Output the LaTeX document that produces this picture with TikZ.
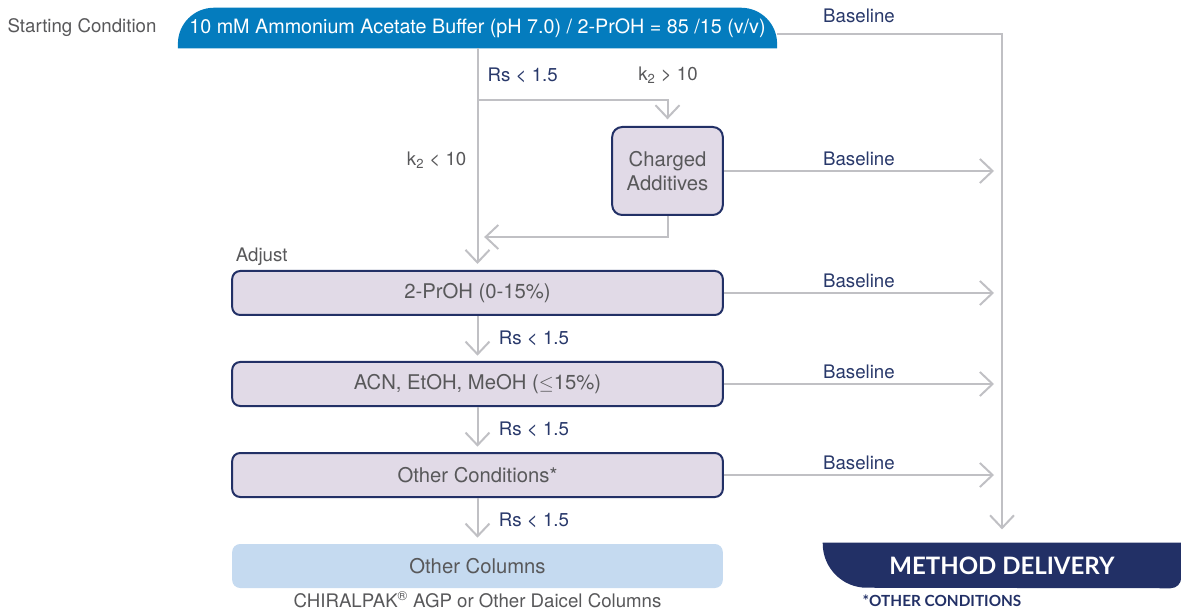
\documentclass[tikz,border=0pt]{standalone}
\usepackage{fontspec}
\setmainfont{TeX Gyre Heros}
\newfontfamily\headfont{Lato}
\usetikzlibrary{arrows.meta,positioning,backgrounds}
\definecolor{startblue}{RGB}{4,124,190}
\definecolor{boxnavy}{RGB}{34,48,102}
\definecolor{boxlilac}{RGB}{225,218,231}
\definecolor{colblue}{RGB}{197,218,240}
\definecolor{linegray}{RGB}{192,192,196}
\definecolor{textgray}{RGB}{88,88,90}
\definecolor{labnavy}{RGB}{40,56,106}

\begin{document}
\begin{tikzpicture}[x=0.75pt, y=-0.75pt, every node/.style={font=\fontsize{14}{16}\selectfont}]
    \tikzset{flow/.style = {draw=linegray, line width=1.5pt,
        -{Straight Barb[length=9.5pt,width=18pt]}},
      procbox/.style = {draw=boxnavy, line width=1.5pt, fill=boxlilac,
        rounded corners=6pt, text=textgray, font=\fontsize{15.2}{17}\selectfont,
        minimum width=368pt, minimum height=33pt},
      cond/.style = {text=labnavy},
      note/.style = {text=textgray}}
    \useasboundingbox (0,0) rectangle (1181,609);
    % boxes
    \node[text=white, minimum width=449pt, minimum height=30pt,
      font=\fontsize{14.8}{16}\selectfont] (start) at (477.5,28)
      {10 mM Ammonium Acetate Buffer (pH 7.0) / 2-PrOH = 85 /15 (v/v)};
    \node[note] (startlbl) at (82,28) {Starting Condition};
    \node[procbox, rounded corners=7.5pt, minimum width=83pt,
      minimum height=66pt, align=center, font=\fontsize{15.2}{18.5}\selectfont]
      (charged) at (667.5,171) {Charged\\Additives};
    \node[procbox] (prop) at (477.5,293) {2-PrOH (0-15\%)};
    \node[procbox, below=33.75pt of prop] (acn) {ACN, EtOH, MeOH ($\leq$15\%)};
    \node[procbox, below=33.75pt of acn] (other) {Other Conditions*};
    \node[procbox, draw=none, fill=colblue, below=33.75pt of other] (cols) {Other Columns};
    \node[note, inner sep=0pt] (chiral) at (477.5,599.5)
      {CHIRALPAK\textsuperscript{®} AGP or Other Daicel Columns};
    \node[note, anchor=south west] (adjust) at (prop.north west) {Adjust};
    \node[text=white, minimum width=268.5pt, minimum height=33.75pt,
      font=\headfont\bfseries\fontsize{18}{20}\selectfont] (deliver) at (1002,565.5)
      {METHOD DELIVERY};
    \node[text=boxnavy, inner sep=0pt, font=\headfont\bfseries\fontsize{11.5}{13}\selectfont]
      (foot) at (942,601) {*OTHER CONDITIONS};
    \begin{scope}[on background layer]
      \fill[startblue] (start.south west) -- ([yshift=-27pt]start.north west)
        arc[start angle=180, end angle=90, radius=27pt]
        -- ([xshift=-27pt]start.north east)
        arc[start angle=90, end angle=0, radius=27pt]
        -- (start.south east) -- cycle;
      \fill[boxnavy] (deliver.north west) -- ([yshift=-0.75pt]deliver.north west)
        arc[start angle=180, end angle=270, radius=33pt]
        -- ([xshift=-8pt]deliver.south east)
        arc[start angle=270, end angle=360, radius=8pt]
        -- (deliver.north east) -- cycle;
    \end{scope}
    % connectors
    \coordinate (split) at (477.5,100);
    \coordinate (merge) at (477.5,237);
    \coordinate (rail0) at (1005,34);
    \draw[flow, shorten >=10pt] (start.east |- rail0) -| (deliver.north);
    \node[cond] (bl0) at (859,16) {Baseline};
    \draw[flow, shorten >=4.5pt] (start.south) -- (prop.north);
    \node[cond, anchor=west] (rs0) at (483,75) {Rs < 1.5};
    \node[note] (k2hi) at (668,75) {k\textsubscript{2} > 10};
    \node[note, anchor=east] (k2lo) at (471,160) {k\textsubscript{2} < 10};
    \draw[flow, shorten >=5pt] (split) -| (charged.north);
    \draw[flow, shorten >=5pt] (charged.south) |- (merge);
    \foreach \nd in {charged,prop,acn,other}
      \draw[flow, shorten >=6pt] (\nd.east) -- node[cond, above, xshift=-3pt] {Baseline}
        (\nd.east -| deliver.north);
    \draw[flow, shorten >=4pt] (prop.south) -- node[cond, right, xshift=12pt] {Rs < 1.5} (acn.north);
    \draw[flow, shorten >=4pt] (acn.south) -- node[cond, right, xshift=12pt] {Rs < 1.5} (other.north);
    \draw[flow, shorten >=4pt] (other.south) -- node[cond, right, xshift=12pt] {Rs < 1.5} (cols.north);
  \end{tikzpicture}
\end{document}
